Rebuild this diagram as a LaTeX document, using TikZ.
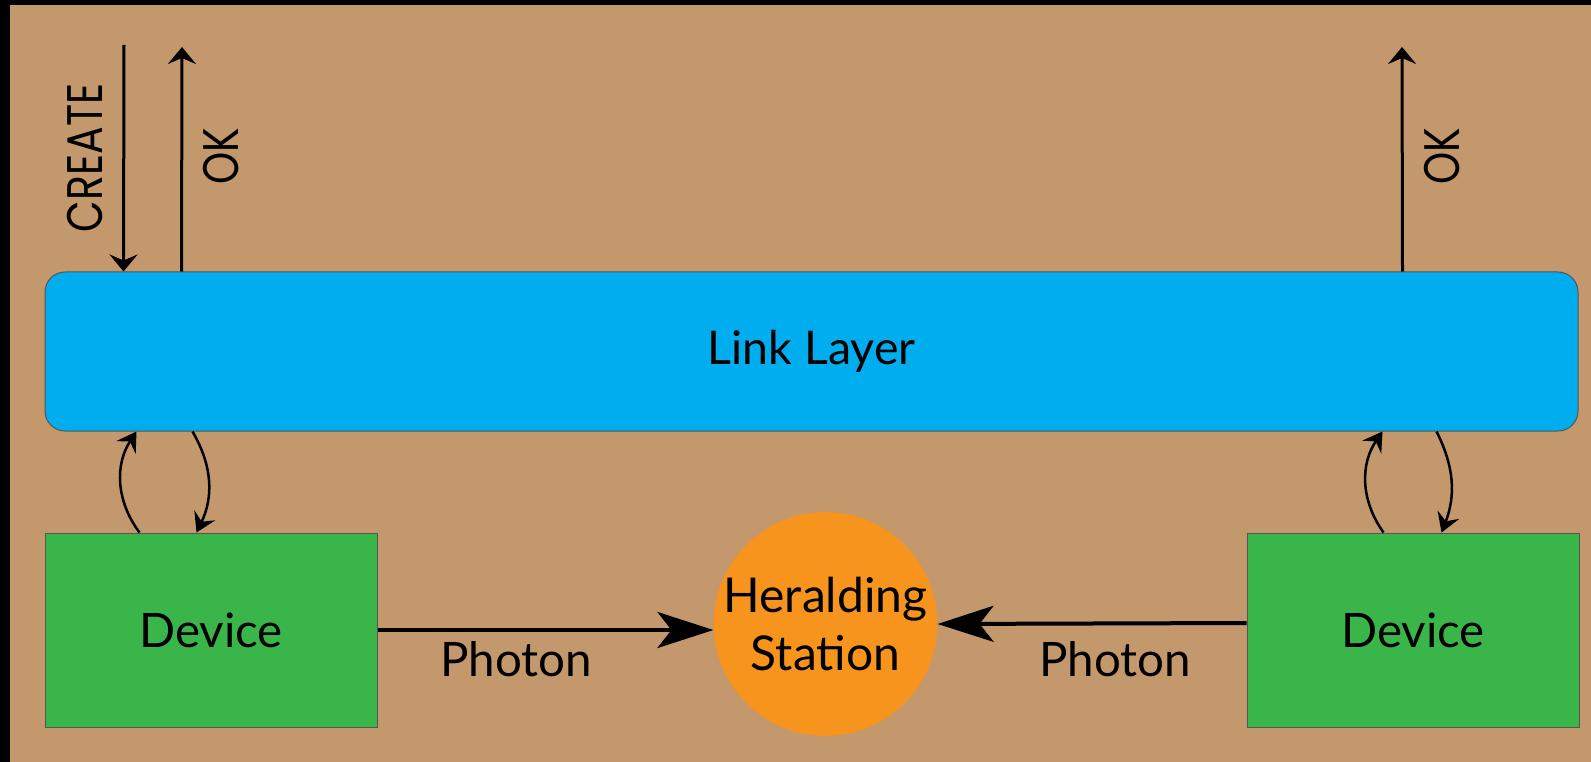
\documentclass[tikz,border=0pt]{standalone}
\usepackage{fontspec}
\setmainfont{Lato}
\newfontfamily\geofont[FakeStretch=0.82]{Poppins}
\usetikzlibrary{arrows.meta,calc}
\definecolor{bgtan}{RGB}{195,152,108}
\definecolor{layerblue}{RGB}{0,174,239}
\definecolor{devgreen}{RGB}{57,181,74}
\definecolor{stationorange}{RGB}{247,148,29}
\definecolor{edgegray}{RGB}{85,85,85}
\begin{document}
\begin{tikzpicture}[x=1pt,y=-1pt,
  layerbox/.style={draw=edgegray,line width=1pt,fill=layerblue,rounded corners=20pt,
    inner sep=0pt,minimum width=1533pt,minimum height=159pt,font=\fontsize{46.5}{57}\selectfont},
  devbox/.style={draw=edgegray,line width=1pt,fill=devgreen,inner sep=0pt,
    minimum width=332pt,minimum height=194pt,font=\fontsize{47.5}{57}\selectfont},
  stationnode/.style={circle,fill=stationorange,inner sep=0pt,minimum size=221pt,
    align=center,font=\fontsize{48}{58}\selectfont},
  msglabel/.style={inner sep=0pt,rotate=90,font=\geofont\fontsize{50}{60}\selectfont},
  photonlabel/.style={inner sep=0pt,anchor=base,font=\fontsize{47.5}{57}\selectfont},
  callarrow/.style={line width=3pt,-{Stealth[length=17pt,width=28pt,inset=6pt]}},
  looparrow/.style={line width=2.5pt,-{Stealth[length=19pt,width=23pt,inset=7pt]}},
  photonarrow/.style={line width=4pt,-{Stealth[length=56pt,width=36pt,inset=14pt]}}]

% frame and background
\useasboundingbox (0,0) rectangle (1591,762);
\fill[black] (0,0) rectangle (1591,762);
\fill[bgtan] (10,5) rectangle (1591,762);

% main blocks
\node[layerbox] (ll) at (811.5,351.5) {Link Layer};
\node[devbox] (dev1) at (211,630) {Device};
\node[devbox] (dev2) at (1413,630) {Device};
\node[stationnode] (hs) at (825.5,624) {Heralding\\Station};

% requests and replies on top of the link layer
\coordinate (createtop) at (124,45);
\coordinate (oktopL) at (182,47);
\coordinate (oktopR) at (1402,47);
\draw[callarrow] (createtop) -- ([xshift=79pt]ll.north west);
\draw[callarrow] ([xshift=137pt]ll.north west) -- (oktopL);
\draw[callarrow] ([xshift=-176pt]ll.north east) -- (oktopR);
\node[msglabel] (lcreate) at (85,158) {CREATE};
\node[msglabel] (lokL) at (221,156) {OK};
\node[msglabel] (lokR) at (1442,156) {OK};

% exchanges between link layer and devices
\draw[looparrow] ([xshift=95pt]dev1.north west) to[bend left=35] ([xshift=92pt]ll.south west);
\draw[looparrow] ([xshift=148pt]ll.south west) to[bend left=28] ([xshift=152pt]dev1.north west);
\draw[looparrow] ([xshift=137pt]dev2.north west) to[bend left=35] ([xshift=-196pt]ll.south east);
\draw[looparrow] ([xshift=-142pt]ll.south east) to[bend left=24] ([xshift=195pt]dev2.north west);

% photons to the heralding station
\draw[photonarrow] (dev1.east) -- (dev1.east -| hs.west);
\draw[photonarrow] ([yshift=7pt]dev2.west) -- (hs.east);
\node[photonlabel] (ph1) at (516,676) {Photon};
\node[photonlabel] (ph2) at (1115,676) {Photon};
\end{tikzpicture}
\end{document}
